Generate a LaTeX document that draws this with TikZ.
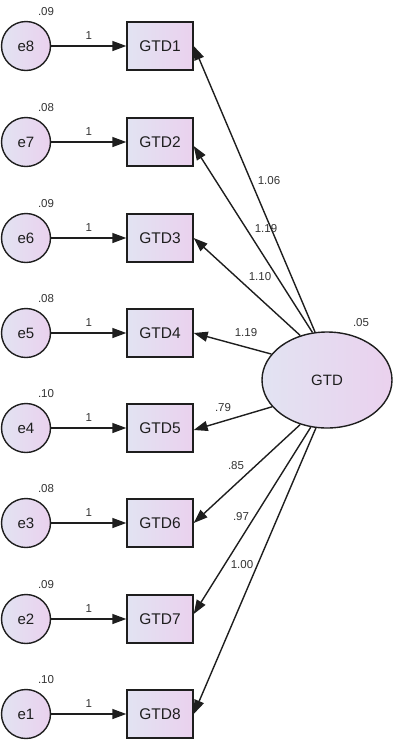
\documentclass[tikz,border=0pt]{standalone}
\usepackage{fontspec}
\setmainfont{Liberation Sans}
\usetikzlibrary{arrows.meta,shapes.geometric}
\definecolor{ink}{HTML}{1E1E1E}
\definecolor{numink}{HTML}{333333}
\definecolor{fillA}{HTML}{E2E3F2}
\definecolor{fillB}{HTML}{EAD1EE}
\begin{document}
\begin{tikzpicture}[x=1pt,y=-1pt,
  obs/.style={draw=ink,line width=1.4pt,left color=fillA,right color=fillB,
    minimum width=66pt,minimum height=48pt,inner sep=0pt,
    font=\fontsize{15.5}{15.5}\selectfont,text=ink},
  err/.style={circle,draw=ink,line width=1.4pt,left color=fillA,right color=fillB,
    minimum size=49pt,inner sep=0pt,font=\fontsize{15}{15}\selectfont,text=ink},
  lat/.style={ellipse,draw=ink,line width=1.4pt,left color=fillA,right color=fillB,
    minimum width=130pt,minimum height=96pt,inner sep=0pt,
    font=\fontsize{15}{15}\selectfont,text=ink},
  conn/.style={draw=ink,line width=1.4pt,-{Triangle[length=14pt,width=10pt]}},
  est/.style={font=\fontsize{11.5}{11.5}\selectfont,text=numink,inner sep=0pt}
]
\useasboundingbox (0,0) rectangle (394,740);

% measurement rows: error term -> indicator
\foreach \i/\e/\v/\y in {1/8/.09/46, 2/7/.08/142, 3/6/.09/238, 4/5/.08/333,
                          5/4/.10/428, 6/3/.08/523, 7/2/.09/619, 8/1/.10/714} {
  \node[err] (e\e) at (26,\y) {e\e};
  \node[obs] (g\i) at (160,\y) {GTD\i};
  \node[est] (v\e) at (46,\y-34) {\v};
  \draw[conn] (e\e) -- (g\i) node[est,midway,above=6pt] (w\e) {1};
}

% latent factor
\node[lat] (gtd) at (327,380) {GTD};
\node[est] (vgtd) at (361,323) {.05};

% factor loadings
\draw[conn] (gtd.104) -- (g1.east);
\draw[conn] (gtd.107) -- ([yshift=-4pt]g2.east);
\draw[conn] (gtd.121) -- (g3.east);
\draw[conn] (gtd.155) -- (g4.east);
\draw[conn] (gtd.206) -- ([yshift=-2pt]g5.east);
\draw[conn] (gtd.239) -- (g6.east);
\draw[conn] (gtd.251) -- ([yshift=5pt]g7.east);
\draw[conn] (gtd.257) -- (g8.east);

\node[est] (l1) at (269,181) {1.06};
\node[est] (l2) at (266,229) {1.19};
\node[est] (l3) at (260,277) {1.10};
\node[est] (l4) at (246,333) {1.19};
\node[est] (l5) at (223,408) {.79};
\node[est] (l6) at (236,466) {.85};
\node[est] (l7) at (241,517) {.97};
\node[est] (l8) at (242,565) {1.00};
\end{tikzpicture}
\end{document}
